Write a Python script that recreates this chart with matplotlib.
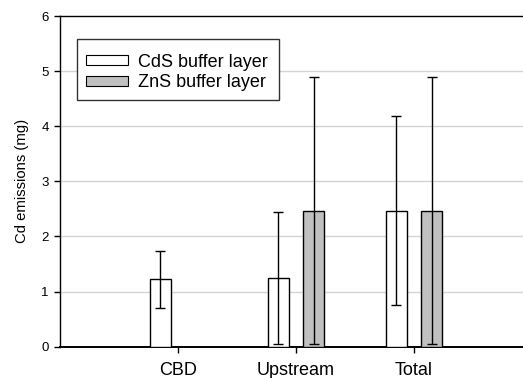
import numpy as np
import matplotlib
matplotlib.use("Agg")
import matplotlib.pyplot as plt
from matplotlib.patches import Rectangle

# data
categories = ["CBD", "Upstream", "Total"]
cds_values = [1.22, 1.25, 2.47]
cds_errors = [0.52, 1.20, 1.72]
zns_values = [np.nan, 2.47, 2.47]
zns_errors = [np.nan, 2.42, 2.42]
y_ticks = [0, 1, 2, 3, 4, 5, 6]

plt.rcParams["font.family"] = ["Liberation Sans", "DejaVu Sans"]

W, H = 523, 378
fig = plt.figure(figsize=(W / 100, H / 100), dpi=100)
ax = fig.add_axes([60 / W, 1 - 346.7 / H, 472 / W, (346.7 - 16) / H])

x = np.arange(1, len(categories) + 1)
off, width = 0.151, 0.18
err_kw = dict(ecolor="black", elinewidth=1.0, capsize=3.4, capthick=1.0)
ax.bar(x - off, cds_values, width, yerr=cds_errors, color="white",
       edgecolor="black", linewidth=1.0, label="CdS buffer layer",
       error_kw=err_kw, zorder=3)
ax.bar(x + off, zns_values, width, yerr=zns_errors, color="#c0c0c0",
       edgecolor="black", linewidth=1.0, label="ZnS buffer layer",
       error_kw=err_kw, zorder=3)

ax.set_xlim(0, 4)
ax.set_ylim(0, 6)
ax.set_xticks(x)
ax.set_xticklabels(categories, fontsize=13)
ax.set_yticks(y_ticks)
ax.tick_params(axis="y", labelsize=9.5, length=4, width=1, pad=4)
ax.tick_params(axis="x", length=4, width=1, pad=7)
ax.set_ylabel("Cd emissions (mg)", fontsize=10.7, labelpad=9)

for yv in y_ticks[1:-1]:
    ax.axhline(yv, color="#d3d3d3", lw=1.0, zorder=1)

ax.spines["right"].set_visible(False)
ax.spines["bottom"].set_linewidth(1.4)
ax.spines["left"].set_linewidth(1.0)
ax.spines["top"].set_linewidth(1.0)

# legend box drawn separately so its padding can match the original
ax.add_patch(Rectangle((77.3 / W, 1 - 100.3 / H), 202 / W, 61.6 / H,
                       transform=fig.transFigure, facecolor="white",
                       edgecolor="#333333", linewidth=1.0, zorder=4,
                       clip_on=False))
leg = ax.legend(loc="upper left", bbox_to_anchor=(77.3 / W, 1 - 44.5 / H),
                bbox_transform=fig.transFigure, borderaxespad=0,
                fontsize=13, handlelength=2.3, handleheight=0.45,
                handletextpad=0.55, labelspacing=0.2, borderpad=0.5,
                frameon=False)
leg.set_zorder(5)
for h in leg.legend_handles:
    h.set_linewidth(0.8)

fig.savefig("out.png", dpi=100)
